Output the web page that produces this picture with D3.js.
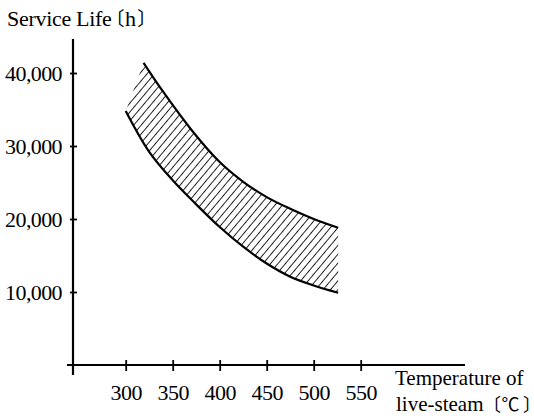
<!DOCTYPE html>
<html>
<head>
<meta charset="utf-8">
<script src="https://cdn.jsdelivr.net/npm/d3@7"></script>
<style>
    body { margin: 0; background: white; }
    svg text { font-family: "Liberation Serif", "Times New Roman", serif; fill: black; }
    .cjk { font-family: "Noto Sans CJK JP"; font-feature-settings: "palt"; letter-spacing: 0; }
</style>
</head>
<body>
<svg id="svg"></svg>
<script>
// values
const upperTemps = [319, 340, 370, 400, 425, 450, 475, 500, 526];
const upperLife = [41400, 37400, 32200, 27800, 25100, 23000, 21400, 20000, 18800];
const lowerTemps = [300, 325, 350, 375, 400, 425, 450, 475, 500, 526];
const lowerLife = [34800, 29200, 25300, 22000, 18900, 16200, 13900, 12100, 10900, 9900];

const xTicks = [300, 350, 400, 450, 500, 550];
const yTicks = [10000, 20000, 30000, 40000];

const width = 534;
const height = 418;

let svg = d3.select("#svg")
    .attr("width", width)
    .attr("height", height);

let xScale = d3.scaleLinear()
    .domain([300, 550])
    .range([125.7, 360.7]);

let yScale = d3.scaleLinear()
    .domain([0, 40000])
    .range([365, 73]);

const upper = upperTemps.map((t, i) => [t, upperLife[i]]);
const lower = lowerTemps.map((t, i) => [t, lowerLife[i]]);

let line = d3.line()
    .x(d => xScale(d[0]))
    .y(d => yScale(d[1]))
    .curve(d3.curveCatmullRom.alpha(0.5));

// hatch pattern for the band
let defs = svg.append("defs");
defs.append("pattern")
    .attr("id", "hatch")
    .attr("patternUnits", "userSpaceOnUse")
    .attr("width", 5.7)
    .attr("height", 5.7)
    .attr("patternTransform", "rotate(40)")
    .append("line")
    .attr("x1", 0).attr("y1", -1)
    .attr("x2", 0).attr("y2", 7)
    .attr("stroke", "black")
    .attr("stroke-width", 1.7);

// band = upper curve then lower curve backwards
let bandPath = line(upper) + "L" + line(lower.slice().reverse()).slice(1) + "Z";
svg.append("path")
    .attr("d", bandPath)
    .attr("fill", "url(#hatch)")
    .attr("stroke", "none");

svg.append("path")
    .attr("d", line(upper))
    .attr("fill", "none")
    .attr("stroke", "black")
    .attr("stroke-width", 2.2);

svg.append("path")
    .attr("d", line(lower))
    .attr("fill", "none")
    .attr("stroke", "black")
    .attr("stroke-width", 2.2);

// axis lines
svg.append("line")
    .attr("x1", 73).attr("y1", 39)
    .attr("x2", 73).attr("y2", 375)
    .attr("stroke", "black")
    .attr("stroke-width", 2.2);

svg.append("line")
    .attr("x1", 67).attr("y1", yScale(0))
    .attr("x2", 465).attr("y2", yScale(0))
    .attr("stroke", "black")
    .attr("stroke-width", 2.2);

// x ticks
let xAxis = svg.append("g")
    .attr("transform", `translate(0,${yScale(0)})`)
    .call(d3.axisBottom(xScale).tickValues(xTicks).tickSize(6).tickPadding(12));
xAxis.select(".domain").remove();
xAxis.selectAll(".tick line")
    .attr("y1", -5)
    .attr("y2", 6)
    .attr("stroke-width", 1.8);
xAxis.selectAll(".tick text")
    .attr("y", 35)
    .attr("dy", 0)
    .style("font-size", "22px")
    .style("letter-spacing", "-0.6px")
    .style("font-family", "Liberation Serif");

// y ticks
let yAxis = svg.append("g")
    .attr("transform", "translate(73,0)")
    .call(d3.axisLeft(yScale).tickValues(yTicks).tickFormat(d3.format(",")).tickSize(3).tickPadding(8));
yAxis.select(".domain").remove();
yAxis.selectAll(".tick line")
    .attr("x1", -3)
    .attr("x2", 4)
    .attr("stroke-width", 1.8);
yAxis.selectAll(".tick text")
    .attr("dy", "0.36em")
    .style("font-size", "22px")
    .style("letter-spacing", "-0.6px")
    .style("font-family", "Liberation Serif");

// axis titles, brackets set with proportional CJK widths
let yTitle = svg.append("text")
    .attr("x", 7)
    .attr("y", 26)
    .style("font-size", "22px")
    .style("letter-spacing", "-0.3px");
yTitle.append("tspan").text("Service Life");
yTitle.append("tspan")
    .attr("class", "cjk")
    .attr("dx", 3)
    .style("font-size", "19px")
    .text("〔");
yTitle.append("tspan").attr("dx", 1).text("h");
yTitle.append("tspan")
    .attr("class", "cjk")
    .attr("dx", 2)
    .style("font-size", "19px")
    .text("〕");

svg.append("text")
    .attr("x", 395)
    .attr("y", 385)
    .style("font-size", "21px")
    .text("Temperature of");

let xTitle = svg.append("text")
    .attr("x", 396)
    .attr("y", 411)
    .style("font-size", "21px");
xTitle.append("tspan").text("live-steam");
xTitle.append("tspan")
    .attr("class", "cjk")
    .attr("dx", 8)
    .style("font-size", "18px")
    .text("〔");
xTitle.append("tspan")
    .attr("class", "cjk")
    .attr("dx", 1)
    .style("font-size", "18px")
    .text("℃");
xTitle.append("tspan")
    .attr("class", "cjk")
    .attr("dx", 4)
    .style("font-size", "18px")
    .text("〕");
</script>
</body>
</html>
